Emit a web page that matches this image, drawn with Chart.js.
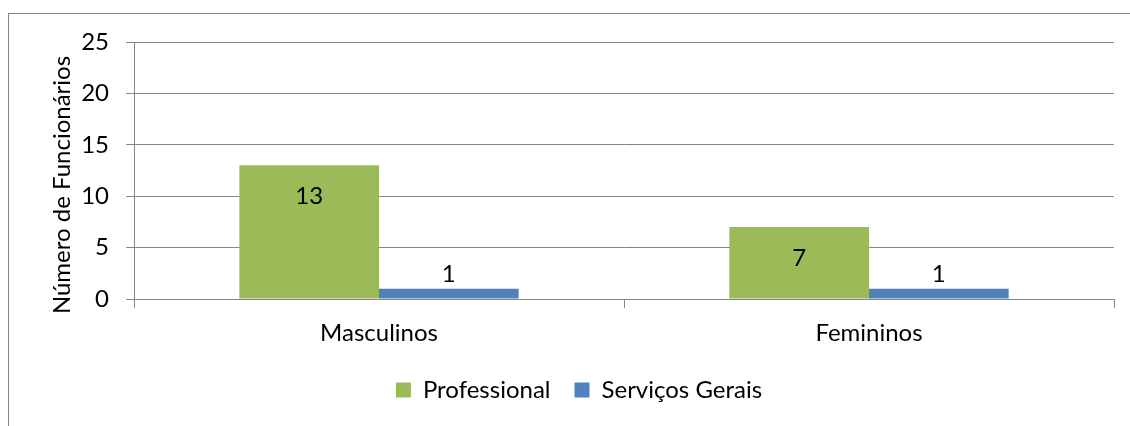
<!DOCTYPE html>
<html>
<head>
<meta charset="utf-8">
<script src="https://cdn.jsdelivr.net/npm/chart.js@4.4.1/dist/chart.umd.min.js"></script>
<style>
  html, body { margin: 0; padding: 0; background: #fff; overflow: hidden; }
  #frame { position: absolute; left: 8px; top: 13px; width: 1300px; height: 600px; border: 1px solid #868686; }
  #wrap { position: absolute; left: 0; top: 0; width: 1130px; height: 426px; }
</style>
</head>
<body>
<div id="frame"></div>
<div id="wrap"><canvas id="chart"></canvas></div>
<script>
const categories = ["Masculinos", "Femininos"];
const professional = [13, 7];
const servicosGerais = [1, 1];
const yTicks = [0, 5, 10, 15, 20, 25];
const yTitle = "Número de Funcionários";

const FONT = "Lato, 'Liberation Sans', sans-serif";
const SIZE = 24;
const GRID = "#868686";

// values above each bar, inside the top when there is room
const barLabels = {
    id: "barLabels",
    afterDatasetsDraw(chart) {
        const ctx = chart.ctx;
        ctx.save();
        ctx.font = SIZE + "px " + FONT;
        ctx.fillStyle = "#000";
        ctx.textAlign = "center";
        ctx.textBaseline = "middle";
        chart.data.datasets.forEach((ds, i) => {
            chart.getDatasetMeta(i).data.forEach((bar, j) => {
                const h = bar.base - bar.y;
                const y = h > 50 ? bar.y + 31 : bar.y - 14;
                ctx.fillText(String(ds.data[j]), bar.x, y);
            });
        });
        ctx.restore();
    }
};

// axis title sits a bit lower than the axis middle in the original
const axisTitle = {
    id: "axisTitle",
    afterDraw(chart) {
        const ctx = chart.ctx;
        ctx.save();
        ctx.translate(62, 185);
        ctx.rotate(-Math.PI / 2);
        ctx.font = SIZE + "px " + FONT;
        ctx.fillStyle = "#000";
        ctx.textAlign = "center";
        ctx.textBaseline = "middle";
        ctx.fillText(yTitle, 0, 0);
        ctx.restore();
    }
};

const ctx = document.getElementById("chart").getContext("2d");
new Chart(ctx, {
    type: "bar",
    data: {
        labels: categories,
        datasets: [
            { label: "Professional", data: professional, backgroundColor: "#9BBB59" },
            { label: "Serviços Gerais", data: servicosGerais, backgroundColor: "#4F81BD" }
        ]
    },
    options: {
        responsive: true,
        maintainAspectRatio: false,
        animation: false,
        categoryPercentage: 0.57,
        barPercentage: 1.0,
        layout: { padding: { left: 44, right: 16, top: 42, bottom: 14 } },
        plugins: {
            tooltip: { enabled: false },
            legend: {
                position: "bottom",
                labels: {
                    color: "#000",
                    font: { family: FONT, size: SIZE },
                    boxWidth: 15,
                    boxHeight: 15,
                    padding: 24
                }
            }
        },
        scales: {
            x: {
                offset: true,
                grid: { offset: true, drawOnChartArea: false, drawTicks: true, tickLength: 9, color: GRID },
                border: { color: GRID },
                ticks: { color: "#000", font: { family: FONT, size: SIZE }, padding: 11 },
                afterFit(scale) { scale.height = 55; }
            },
            y: {
                min: 0,
                max: 25,
                afterBuildTicks(scale) { scale.ticks = yTicks.map(v => ({ value: v })); },
                grid: { color: GRID, tickLength: 8 },
                border: { color: GRID },
                ticks: { color: "#000", font: { family: FONT, size: SIZE }, padding: 17 },
                afterFit(scale) { scale.width = 90; }
            }
        }
    },
    plugins: [barLabels, axisTitle]
});
</script>
</body>
</html>
